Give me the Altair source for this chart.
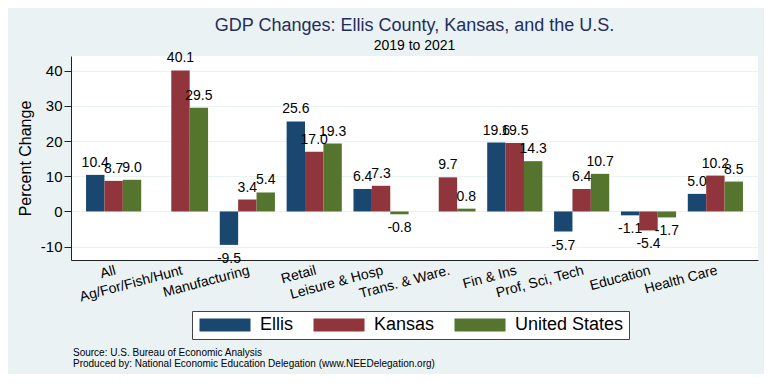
import altair as alt
import pandas as pd

categories = ["All", "Ag/For/Fish/Hunt", "Manufacturing", "Retail", "Leisure & Hosp",
              "Trans. & Ware.", "Fin & Ins", "Prof, Sci, Tech", "Education", "Health Care"]
series = ["Ellis", "Kansas", "United States"]
ellis = [10.4, None, -9.5, 25.6, 6.4, None, 19.6, -5.7, -1.1, 5.0]
kansas = [8.7, 40.1, 3.4, 17.0, 7.3, 9.7, 19.5, 6.4, -5.4, 10.2]
us = [9.0, 29.5, 5.4, 19.3, -0.8, 0.8, 14.3, 10.7, -1.7, 8.5]
colors = ["#1A476F", "#90353B", "#55752F"]
y_ticks = [-10, 0, 10, 20, 30, 40]
source_lines = ["Source: U.S. Bureau of Economic Analysis",
                "Produced by: National Economic Education Delegation (www.NEEDelegation.org)"]

rows = []
for s, vals in zip(series, [ellis, kansas, us]):
    for c, v in zip(categories, vals):
        if v is not None:
            rows.append({"category": c, "series": s, "value": v})
df = pd.DataFrame(rows)

FONT = "Liberation Sans"
MINUS = "\u2212"

x_enc = alt.X("category:N", sort=categories, title=None,
              scale=alt.Scale(paddingInner=0.175, paddingOuter=0.225),
              axis=alt.Axis(labelAngle=-15, labelFontSize=14, labelColor="black",
                            ticks=False, labelPadding=3, domainColor="#222222",
                            labelFont=FONT, labelLimit=200))
xo_enc = alt.XOffset("series:N", sort=series, scale=alt.Scale(paddingInner=0, paddingOuter=0))
y_enc = alt.Y("value:Q", title="Percent Change",
              scale=alt.Scale(domain=[-13.8, 44.2], nice=False, zero=False),
              axis=alt.Axis(values=y_ticks, tickSize=7, tickColor="#222222", domainColor="#222222",
                            labelFontSize=15, labelColor="black", labelPadding=2,
                            labelExpr=f"replace(datum.label, '{MINUS}', '-')",
                            titleFontSize=16, titleFontWeight="normal", titleColor="black",
                            titlePadding=7, gridColor="#EAF2F3", gridWidth=1,
                            labelFont=FONT, titleFont=FONT))

bars = alt.Chart(df).mark_bar().encode(
    x=x_enc,
    xOffset=xo_enc,
    y=y_enc,
    color=alt.Color("series:N", sort=series, title=None,
                    scale=alt.Scale(domain=series, range=colors),
                    legend=alt.Legend(orient="none", legendX=121, legendY=255,
                                      direction="horizontal", fillColor="white",
                                      strokeColor="#444444", padding=5,
                                      labelFontSize=18, labelFont=FONT, labelColor="black",
                                      symbolType="M-1,-1H6.85V1H-1Z", symbolSize=169,
                                      symbolStrokeWidth=0, symbolOpacity=1,
                                      labelOffset=45, columnPadding=17)),
)

label_base = alt.Chart(df).transform_calculate(
    lab=f"replace(format(datum.value, '.1f'), '{MINUS}', '-')"
)

pos_labels = label_base.transform_filter("datum.value >= 0").mark_text(
    baseline="bottom", dy=-5, fontSize=14, font=FONT, color="black"
).encode(x=alt.X("category:N", sort=categories), xOffset=alt.XOffset("series:N", sort=series),
         y="value:Q", text="lab:N")

neg_labels = label_base.transform_filter("datum.value < 0").mark_text(
    baseline="top", dy=7, fontSize=14, font=FONT, color="black"
).encode(x=alt.X("category:N", sort=categories), xOffset=alt.XOffset("series:N", sort=series),
         y="value:Q", text="lab:N")

note = alt.Chart(pd.DataFrame({"k": [0]})).mark_text(
    text=source_lines, align="left", baseline="top", fontSize=10, lineHeight=11,
    font=FONT, color="black"
).encode(x=alt.value(2), y=alt.value(292))

chart = alt.layer(bars, pos_labels, neg_labels, note).properties(
    width=687, height=204,
    autosize=alt.AutoSizeParams(type="none"),
    padding={"left": 63, "top": 48, "right": 6, "bottom": 114},
    title=alt.TitleParams(text="GDP Changes: Ellis County, Kansas, and the U.S.",
                          subtitle="2019 to 2021", anchor="middle", frame="group",
                          fontSize=18, font=FONT, fontWeight="normal", color="#1F2D5C",
                          subtitleFontSize=14, subtitleFont=FONT, subtitleColor="black",
                          subtitlePadding=4, offset=-2),
).configure(background="#EAF2F3").configure_view(fill="white", strokeWidth=0)

chart.save("out.html", embed_options={"renderer": "svg", "actions": False})
